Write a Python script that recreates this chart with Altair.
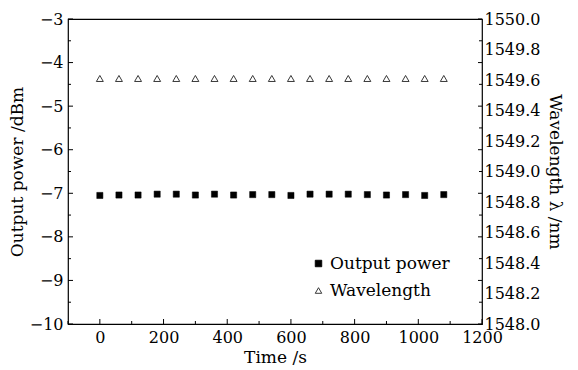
import altair as alt
import pandas as pd

time_s = [0, 60, 120, 180, 240, 300, 360, 420, 480, 540, 600, 660, 720, 780, 840, 900, 960, 1020, 1080]
power_dbm = [-7.05, -7.04, -7.04, -7.02, -7.02, -7.04, -7.02, -7.04, -7.03, -7.03,
             -7.05, -7.02, -7.02, -7.02, -7.03, -7.04, -7.03, -7.05, -7.03]
wavelength_nm = [1549.61] * 19

x_major = [0, 200, 400, 600, 800, 1000, 1200]
x_minor = [-100, 100, 300, 500, 700, 900, 1100]
y_major = [-10, -9, -8, -7, -6, -5, -4, -3]
y_minor = [-9.5, -8.5, -7.5, -6.5, -5.5, -4.5, -3.5]
wl_ticks = [1548.0, 1548.2, 1548.4, 1548.6, 1548.8, 1549.0, 1549.2, 1549.4, 1549.6, 1549.8, 1550.0]
series_names = ["Output power", "Wavelength"]

W, H = 414, 305
FONT = "DejaVu Serif"

df_p = pd.DataFrame({"t": time_s, "v": power_dbm, "series": series_names[0]})
df_w = pd.DataFrame({"t": time_s, "v": wavelength_nm, "series": series_names[1]})

xscale = alt.Scale(domain=[-100, 1200], nice=False, zero=False)
xaxis = alt.Axis(values=x_major, format="d", ticks=False, domain=False, grid=False, title="Time /s",
                 labelPadding=5, titlePadding=4, labelFlush=False)
yscale_p = alt.Scale(domain=[-10, -3], nice=False, zero=False)
yaxis_p = alt.Axis(values=y_major, ticks=False, domain=False, grid=False,
                   title="Output power /dBm", labelPadding=5, titlePadding=3, labelFlush=False)
yscale_w = alt.Scale(domain=[1548, 1550], nice=False, zero=False)
yaxis_w = alt.Axis(values=wl_ticks, format=".1f", ticks=False, domain=False, grid=False,
                   title="Wavelength λ /nm", orient="right", labelPadding=2, titlePadding=6,
                   labelFlush=False)

shape_scale = alt.Scale(domain=series_names, range=["square", "triangle-up"])
fill_scale = alt.Scale(domain=series_names, range=["black", "white"])
stroke_scale = alt.Scale(domain=series_names, range=["black", "#222222"])
legend = alt.Legend(title=None, orient="none", legendX=242, legendY=236, labelFontSize=17,
                    labelFont=FONT, labelColor="black", symbolStrokeWidth=0.9,
                    symbolSize=42, rowPadding=9, labelOffset=3, symbolOpacity=1)

def enc(chart, yscale, yaxis):
    return chart.encode(
        x=alt.X("t:Q", scale=xscale, axis=xaxis),
        y=alt.Y("v:Q", scale=yscale, axis=yaxis),
        shape=alt.Shape("series:N", scale=shape_scale, legend=legend),
        fill=alt.Fill("series:N", scale=fill_scale, legend=legend),
        stroke=alt.Stroke("series:N", scale=stroke_scale, legend=legend),
    )

power = enc(alt.Chart(df_p).mark_point(filled=True, size=38, strokeWidth=0.5, opacity=1),
            yscale_p, yaxis_p)

def yticks(vals, x0, x1):
    return alt.Chart(pd.DataFrame({"v": vals})).mark_rule(color="black", strokeWidth=1).encode(
        y=alt.Y("v:Q", scale=yscale_p, axis=yaxis_p),
        x=alt.value(x0), x2=alt.value(x1))

def xticks(vals, ln):
    return alt.Chart(pd.DataFrame({"t": vals})).mark_rule(color="black", strokeWidth=1).encode(
        x=alt.X("t:Q", scale=xscale, axis=xaxis),
        y=alt.value(H), y2=alt.value(H - ln))

left_layer = alt.layer(
    power,
    yticks(y_major, 0, 5), yticks(y_minor, 0, 3),
    yticks(y_major, W, W - 4), yticks(y_minor, W, W - 3),
    xticks(x_major, 5), xticks(x_minor, 3),
)

wave = enc(alt.Chart(df_w).mark_point(filled=True, size=48, strokeWidth=0.9, opacity=1),
           yscale_w, yaxis_w)

chart = alt.layer(left_layer, wave).resolve_scale(y="independent").properties(
    width=W, height=H, padding={"left": 0, "top": 3, "right": 2, "bottom": 0},
    background="white"
).configure_view(stroke="black", strokeWidth=1.2).configure_axis(
    labelFont=FONT, titleFont=FONT, labelFontSize=16, titleFontSize=17,
    labelColor="black", titleColor="black", titleFontWeight="normal"
)

chart.save("out.html", embed_options={"renderer": "svg", "actions": False})
